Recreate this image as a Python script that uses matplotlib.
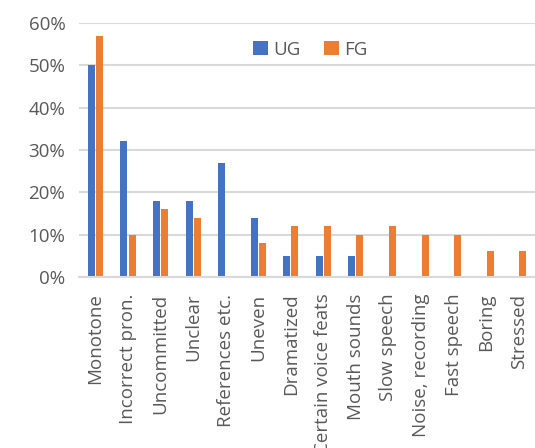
import matplotlib.pyplot as plt
import numpy as np

# Data
# ----------------------------------------------------------------------------

categories = ['Monotone', 'Incorrect pron.', 'Uncommitted', 'Unclear',
              'References etc.', 'Uneven', 'Dramatized', 'Certain voice feats',
              'Mouth sounds', 'Slow speech', 'Noise, recording', 'Fast speech',
              'Boring', 'Stressed']
ug = [50, 32, 18, 18, 27, 14, 5, 5, 5, 0, 0, 0, 0, 0]
fg = [57, 10, 16, 14, 0, 8, 12, 12, 10, 12, 10, 10, 6, 6]

# Plot
# ----------------------------------------------------------------------------

plt.rcParams['font.family'] = ['Open Sans', 'DejaVu Sans']

x = np.arange(len(categories))
w = 0.215
off = 0.125

fig = plt.figure(figsize=(5.35, 4.48), dpi=100)
ax = fig.add_axes([0.148, 0.382, 0.852, 0.567])

ax.bar(x - off, np.array(ug) / 100, w, color='#4472C4', label='UG')
ax.bar(x + off, np.array(fg) / 100, w, color='#ED7D31', label='FG')

ax.set_xlim(-0.5, len(categories) - 0.5)
ax.set_ylim(0, 0.6)
ax.set_yticks(np.arange(0, 0.61, 0.1))
ax.set_yticklabels([f'{int(round(v * 100))}%' for v in np.arange(0, 0.61, 0.1)])
ax.set_xticks(x)
ax.set_xticklabels(categories, rotation=90)

ax.set_axisbelow(True)
ax.yaxis.grid(True, color='#D9D9D9', linewidth=1.5)
for s in ['top', 'right', 'left']:
    ax.spines[s].set_visible(False)
ax.spines['bottom'].set_color('#D9D9D9')
ax.spines['bottom'].set_linewidth(1.5)
ax.tick_params(length=0, labelsize=13.5, labelcolor='#595959')
ax.tick_params(axis='y', pad=10)
ax.tick_params(axis='x', pad=12)

ax.legend(loc='center', bbox_to_anchor=(0.507, 0.894), ncol=2, frameon=False,
          fontsize=13.5, labelcolor='#595959', handlelength=0.8,
          handleheight=0.8, handletextpad=0.3, columnspacing=1.2)

fig.savefig('out.png', dpi=100)
